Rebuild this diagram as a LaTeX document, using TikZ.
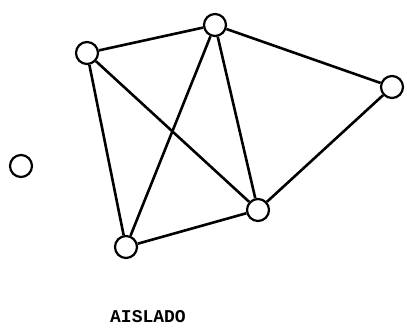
\documentclass[tikz,border=0pt]{standalone}
\usepackage{fontspec}
\newfontfamily\typew{Liberation Mono}
\begin{document}
\begin{tikzpicture}[x=1pt,y=1pt,
  vtx/.style={circle,draw,line width=2.2pt,minimum size=22pt,inner sep=0pt,fill=white},
  edge/.style={line width=2.6pt},
  lbl/.style={font=\typew\bfseries\fontsize{18}{18}\selectfont}]
\useasboundingbox (0,0) rectangle (407,336);
\node[vtx] (A) at (87,283) {};
\node[vtx] (B) at (215,311) {};
\node[vtx] (C) at (392,249) {};
\node[vtx] (D) at (258,126) {};
\node[vtx] (E) at (126,89) {};
\node[vtx] (I) at (21,170) {};
\draw[edge] (A) -- (B);
\draw[edge] (A) -- (E);
\draw[edge] (A) -- (D);
\draw[edge] (B) -- (E);
\draw[edge] (B) -- (D);
\draw[edge] (B) -- (C);
\draw[edge] (C) -- (D);
\draw[edge] (D) -- (E);
\node[lbl] (T) at (148,19) {AISLADO};
\end{tikzpicture}
\end{document}
